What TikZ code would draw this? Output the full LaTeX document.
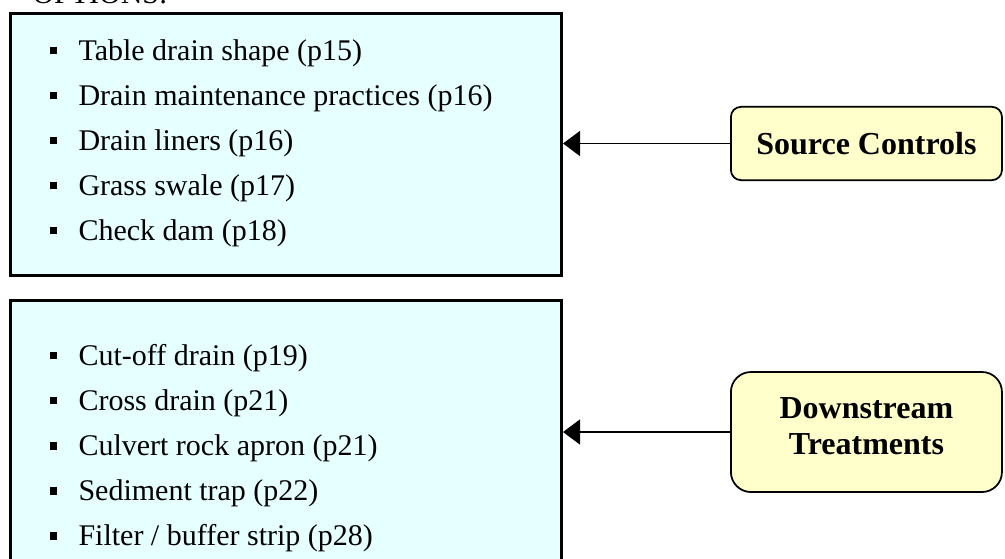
\documentclass[tikz,border=0pt]{standalone}
\usepackage{fontspec}
\setmainfont{Liberation Serif}
\usetikzlibrary{arrows.meta,positioning}
\definecolor{ListCyan}  {HTML}{E6FFFF}
\definecolor{TagYellow} {HTML}{FFFFCC}
\newcommand{\sqb}{\makebox[11.6pt][l]{\raisebox{2.3pt}{\rule{3pt}{3pt}}}}
\tikzset{
  lbox/.style={rectangle,draw=black,line width=1.2pt,fill=ListCyan,
               minimum width=7.746cm,inner sep=0pt},
  ltext/.style={anchor=west,inner sep=0pt,align=left,
                font=\fontsize{12}{18}\selectfont},
  tag/.style={rectangle,draw=black,line width=0.7pt,fill=TagYellow,
              minimum width=3.81cm,align=center,
              font=\fontsize{12.8}{14.5}\selectfont\bfseries},
  arr/.style={-{Triangle[length=6.8pt,width=10pt]},line width=0.6pt},
}
\begin{document}
\begin{tikzpicture}
  \useasboundingbox (0,0) rectangle (14.128,-7.858);

  \node[anchor=base west,inner sep=0pt,font=\fontsize{12}{14}\selectfont]
    (title) at (0.45,-0.056) {OPTIONS:};

  % option lists
  \node[lbox,minimum height=3.683cm] (srcbox) at (4.021,-2.031) {};
  \node[ltext] (srclist) at (0.689,-2.01)
    {\sqb Table drain shape (p15)\\
     \sqb Drain maintenance practices (p16)\\
     \sqb Drain liners (p16)\\
     \sqb Grass swale (p17)\\
     \sqb Check dam (p18)};

  \node[lbox,minimum height=4.07cm] (dwnbox) at (4.021,-6.256) {};
  \node[ltext] (dwnlist) at (0.689,-6.296)
    {\sqb Cut-off drain (p19)\\
     \sqb Cross drain (p21)\\
     \sqb Culvert rock apron (p21)\\
     \sqb Sediment trap (p22)\\
     \sqb Filter / buffer strip (p28)};

  % categories
  \node[tag,rounded corners=4pt,minimum height=1.03cm]
    (src) at (12.18,-2.017) {Source Controls};
  \node[tag,rounded corners=8pt,minimum height=1.687cm,text depth=4.8pt]
    (dwn) at (12.18,-6.073) {Downstream\\Treatments};

  \draw[arr] (src.west) -- (src.west -| srcbox.east);
  \draw[arr] (dwn.west) -- (dwn.west -| dwnbox.east);

\end{tikzpicture}
\end{document}
